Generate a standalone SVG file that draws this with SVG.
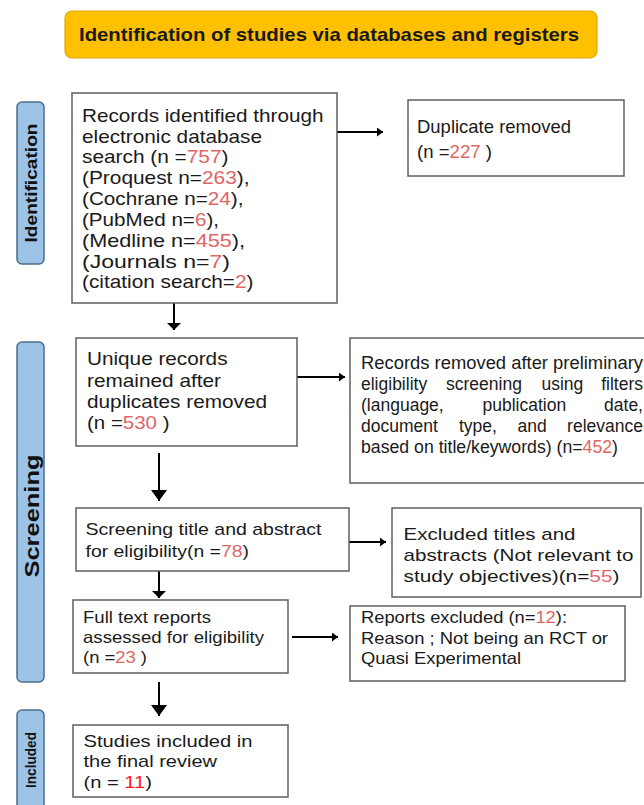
<svg xmlns="http://www.w3.org/2000/svg" width="644" height="805" viewBox="0 0 644 805">
<style>
text{font-family:"Liberation Sans",Arial,Helvetica,sans-serif;fill:#1a1a1a}
.box{fill:#fff;stroke:#5f5f5f;stroke-width:1.5}
.side{fill:#9dc3e6;stroke:#4a6d8c;stroke-width:1.5}
.sidetext{font-weight:bold;fill:#111}
.num{fill:#e06666}
.num2{fill:#ff1a1a}
.conn{stroke:#000;stroke-width:2;fill:none}
.t18{font-size:18.5px}
.t17{font-size:17px}
.t16{font-size:16.5px}
.j{font-size:17.5px}
</style>
<defs>
<marker id="ah" markerUnits="userSpaceOnUse" markerWidth="8" markerHeight="10" refX="6" refY="4.5" orient="auto"><path d="M0,0 L6,4.5 L0,9 z" fill="#000"/></marker>
<marker id="flat" markerUnits="userSpaceOnUse" markerWidth="16" markerHeight="16" refX="7" refY="7" orient="auto"><path d="M0,0 L7,7 L0,14 z" fill="#000"/></marker>
<marker id="big" markerUnits="userSpaceOnUse" markerWidth="14" markerHeight="18" refX="11" refY="8" orient="auto"><path d="M0,0 L11,8 L0,16 z" fill="#000"/></marker>
</defs>
<rect width="644" height="805" fill="#fff"/>

<g id="banner">
<rect x="65" y="11" width="532" height="47" rx="7" fill="#ffc000" stroke="#e0a800" stroke-width="1.2"/>
<text x="79" y="41" font-size="19" font-weight="bold" textLength="500" lengthAdjust="spacingAndGlyphs" fill="#111">Identification of studies via databases and registers</text>
</g>

<g id="label-identification">
<rect class="side" x="17" y="102" width="27" height="162" rx="5"/>
<text class="sidetext" transform="translate(31,183) rotate(-90)" x="0" y="6" text-anchor="middle" font-size="17" textLength="119" lengthAdjust="spacingAndGlyphs">Identification</text>
</g>
<g id="label-screening">
<rect class="side" x="17" y="342" width="27" height="340" rx="5"/>
<text class="sidetext" transform="translate(31,516) rotate(-90)" x="0" y="7.5" text-anchor="middle" font-size="21" textLength="123" lengthAdjust="spacingAndGlyphs">Screening</text>
</g>
<g id="label-included">
<rect class="side" x="17" y="710" width="27" height="105" rx="5"/>
<text class="sidetext" transform="translate(31,760) rotate(-90)" x="0" y="5" text-anchor="middle" font-size="14" textLength="56" lengthAdjust="spacingAndGlyphs">Included</text>
</g>

<g id="connectors">
<path class="conn" d="M337,132 H383" marker-end="url(#ah)"/>
<path class="conn" d="M174,303 V330" marker-end="url(#flat)"/>
<path class="conn" d="M297,377 H345" marker-end="url(#ah)"/>
<path class="conn" d="M159,453 V501" marker-end="url(#big)"/>
<path class="conn" d="M349,542 H386" marker-end="url(#ah)"/>
<path class="conn" d="M159,571 V598" marker-end="url(#flat)"/>
<path class="conn" d="M292,637 H338" marker-end="url(#ah)"/>
<path class="conn" d="M159,682 V716" marker-end="url(#big)"/>
</g>

<g id="records-identified">
<rect class="box" x="72" y="93" width="265" height="210"/>
<g class="t18">
<text x="82" y="121.7" textLength="241.5" lengthAdjust="spacingAndGlyphs">Records identified through</text>
<text x="82" y="142.5" textLength="180" lengthAdjust="spacingAndGlyphs">electronic database</text>
<text x="82" y="163.3" textLength="146.5" lengthAdjust="spacingAndGlyphs">search (n =<tspan class="num">757</tspan>)</text>
<text x="82" y="184" textLength="167.5" lengthAdjust="spacingAndGlyphs">(Proquest n=<tspan class="num">263</tspan>),</text>
<text x="82" y="205" textLength="161.5" lengthAdjust="spacingAndGlyphs">(Cochrane n=<tspan class="num">24</tspan>),</text>
<text x="82" y="226" textLength="137" lengthAdjust="spacingAndGlyphs">(PubMed n=<tspan class="num">6</tspan>),</text>
<text x="82" y="246.7" textLength="163" lengthAdjust="spacingAndGlyphs">(Medline n=<tspan class="num">455</tspan>),</text>
<text x="82" y="267.5" textLength="148" lengthAdjust="spacingAndGlyphs">(Journals n=<tspan class="num">7</tspan>)</text>
<text x="82" y="288.3" textLength="171.5" lengthAdjust="spacingAndGlyphs">(citation search=<tspan class="num">2</tspan>)</text>
</g>
</g>

<g id="duplicates">
<rect class="box" x="408" y="100" width="216" height="76"/>
<text x="417" y="132.7" font-size="19" textLength="154" lengthAdjust="spacingAndGlyphs">Duplicate removed</text>
<text x="417" y="158.3" font-size="19" textLength="75" lengthAdjust="spacingAndGlyphs">(n =<tspan class="num">227</tspan> )</text>
</g>

<g id="unique-records">
<rect class="box" x="76" y="338" width="221" height="108"/>
<g class="t18">
<text x="87" y="365" textLength="140.5" lengthAdjust="spacingAndGlyphs">Unique records</text>
<text x="87" y="386.7" textLength="134" lengthAdjust="spacingAndGlyphs">remained after</text>
<text x="87" y="408.3" textLength="180" lengthAdjust="spacingAndGlyphs">duplicates removed</text>
<text x="87" y="429.3" textLength="82.5" lengthAdjust="spacingAndGlyphs">(n =<tspan class="num">530</tspan> )</text>
</g>
</g>

<g id="removed-preliminary">
<rect class="box" x="350" y="338" width="300" height="145"/>
<g class="j">
<text x="361" y="369.3" textLength="282" lengthAdjust="spacingAndGlyphs">Records removed after preliminary</text>
<text y="390"><tspan x="361">eligibility</tspan><tspan x="446">screening</tspan><tspan x="541.5">using</tspan><tspan x="643" text-anchor="end">filters</tspan></text>
<text y="411.3"><tspan x="361">(language,</tspan><tspan x="482.5">publication</tspan><tspan x="643" text-anchor="end">date,</tspan></text>
<text y="432.3"><tspan x="361">document</tspan><tspan x="459">type,</tspan><tspan x="517.5">and</tspan><tspan x="643" text-anchor="end">relevance</tspan></text>
<text x="361" y="453.3" textLength="257" lengthAdjust="spacingAndGlyphs">based on title/keywords) (n=<tspan class="num">452</tspan>)</text>
</g>
</g>

<g id="screening-title">
<rect class="box" x="76" y="508" width="273" height="63"/>
<g class="t17">
<text x="85.5" y="535" textLength="236" lengthAdjust="spacingAndGlyphs">Screening title and abstract</text>
<text x="85.5" y="556.7" textLength="163.5" lengthAdjust="spacingAndGlyphs">for eligibility(n =<tspan class="num">78</tspan>)</text>
</g>
</g>

<g id="excluded-titles">
<rect class="box" x="392" y="508" width="249" height="89"/>
<g class="t17">
<text x="403.5" y="540" textLength="172" lengthAdjust="spacingAndGlyphs">Excluded titles and</text>
<text x="403.5" y="560.7" textLength="230" lengthAdjust="spacingAndGlyphs">abstracts (Not relevant to</text>
<text x="403.5" y="581.7" textLength="216" lengthAdjust="spacingAndGlyphs">study objectives)(n=<tspan class="num">55</tspan>)</text>
</g>
</g>

<g id="full-text">
<rect class="box" x="73" y="600" width="215" height="73"/>
<g class="t16">
<text x="83" y="623.3" textLength="128" lengthAdjust="spacingAndGlyphs">Full text reports</text>
<text x="83" y="642.7" textLength="181" lengthAdjust="spacingAndGlyphs">assessed for eligibility</text>
<text x="83" y="663.3" textLength="64" lengthAdjust="spacingAndGlyphs">(n =<tspan class="num">23</tspan> )</text>
</g>
</g>

<g id="reports-excluded">
<rect class="box" x="350" y="606" width="275" height="75"/>
<g class="t16">
<text x="361" y="623.3" textLength="206" lengthAdjust="spacingAndGlyphs">Reports excluded (n=<tspan class="num">12</tspan>):</text>
<text x="361" y="644" textLength="247" lengthAdjust="spacingAndGlyphs">Reason ; Not being an RCT or</text>
<text x="361" y="664.3" textLength="160" lengthAdjust="spacingAndGlyphs">Quasi Experimental</text>
</g>
</g>

<g id="included-studies">
<rect class="box" x="73" y="725" width="215" height="72"/>
<g class="t17">
<text x="83.5" y="747.3" textLength="169" lengthAdjust="spacingAndGlyphs">Studies included in</text>
<text x="83.5" y="767.3" textLength="133.5" lengthAdjust="spacingAndGlyphs">the final review</text>
<text x="83.5" y="788.3" textLength="68.5" lengthAdjust="spacingAndGlyphs">(n = <tspan class="num2">11</tspan>)</text>
</g>
</g>
</svg>
